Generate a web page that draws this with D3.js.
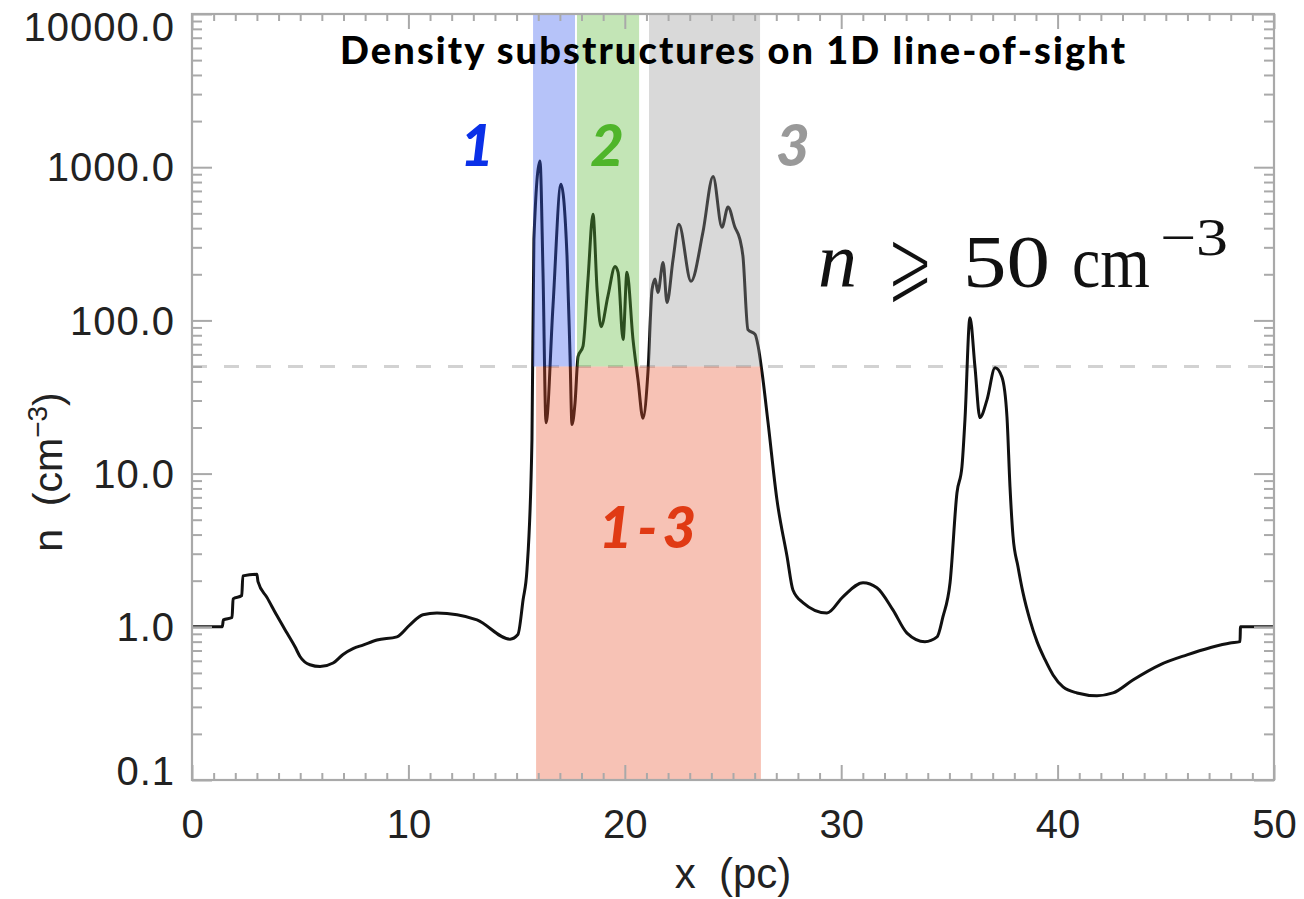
<!DOCTYPE html>
<html>
<head>
<meta charset="utf-8">
<script src="https://cdn.jsdelivr.net/npm/d3@7"></script>
<style>
  body { margin: 0; background: #fff; }
  svg { display: block; }
  .tick text { font-family: "Liberation Sans", Arial, sans-serif; fill: #222; }
</style>
</head>
<body>
<svg id="chart" width="1304" height="899"></svg>
<script>
// density along the line of sight
var xPc = [0, 1.4, 1.45, 1.85, 1.9, 2.3, 2.35, 3.0, 3.05, 3.47, 3.93, 4.39, 4.76, 4.99, 5.45, 5.92, 6.52, 6.98, 7.44, 7.9, 8.55, 9.47, 10.07, 10.67, 11.32, 12.25, 13.17, 14.7, 15.06, 15.3, 15.48, 15.71, 15.8, 16.08, 16.22, 16.36, 16.68, 17.05, 17.33, 17.47, 17.56, 17.7, 17.84, 18.07, 18.3, 18.53, 18.72, 18.9, 19.22, 19.55, 19.69, 19.92, 20.1, 20.38, 20.61, 20.84, 21.07, 21.26, 21.4, 21.53, 21.77, 21.95, 22.23, 22.5, 23.06, 23.61, 24.08, 24.49, 24.77, 25.09, 25.32, 25.46, 25.69, 26.02, 26.16, 26.34, 26.62, 27.03, 27.5, 27.77, 28.23, 29.34, 30.08, 31.01, 31.65, 32.39, 33.04, 33.87, 34.43, 34.7, 35.03, 35.35, 35.58, 35.72, 35.95, 36.18, 36.41, 36.74, 37.11, 37.43, 37.66, 37.8, 37.94, 38.17, 38.4, 38.72, 39.05, 39.42, 39.79, 40.25, 40.9, 41.82, 42.56, 43.48, 44.73, 45.98, 47.04, 47.97, 48.43, 48.45, 50];
var nDens = [1.0, 1.0, 1.11, 1.15, 1.52, 1.6, 2.15, 2.2, 1.97, 1.55, 1.18, 0.91, 0.74, 0.64, 0.565, 0.55, 0.58, 0.66, 0.72, 0.76, 0.82, 0.86, 1.03, 1.2, 1.23, 1.2, 1.11, 0.83, 0.89, 1.5, 2.36, 16.7, 338, 1096, 206, 21.5, 123, 774, 262, 58, 20.9, 29, 58, 68, 186, 493, 159, 91, 144, 225, 206, 75, 206, 75, 41, 23, 46, 159, 186, 152, 239, 131, 250, 424, 180, 376, 871, 405, 550, 405, 338, 262, 87, 81, 68, 46, 21.5, 6.76, 2.87, 1.74, 1.44, 1.23, 1.57, 1.94, 1.8, 1.29, 0.91, 0.8, 0.86, 1.16, 1.94, 7.5, 11.1, 22.6, 104, 50, 23.2, 30.4, 49, 42.5, 23.5, 8.2, 3.9, 2.47, 1.67, 1.11, 0.8, 0.61, 0.485, 0.405, 0.37, 0.355, 0.37, 0.45, 0.565, 0.656, 0.73, 0.785, 0.8, 1.0, 1.0];

var threshold = 50;
// substructure bands (pc)
var bandNames = ["1", "2", "3"];
var bandStart = [15.76, 17.79, 21.12];
var bandEnd = [17.70, 20.66, 26.25];
var allStart = 15.90, allEnd = 26.29;

var xTicks = [0, 10, 20, 30, 40, 50];
var yTicks = [0.1, 1, 10, 100, 1000, 10000];

var bandFill = ["#3a5cf0", "#5cb83a", "#999999"];
var bandText = ["#0a30e8", "#4fb52a", "#999999"];
var allFill = "#e8502a", allText = "#e03a14";
var axisCol = "#a9a9a9";

var W = 1304, H = 899;
var pad_left = 192, pad_top = 14, pad_right = 30, pad_bot = 119;
var pw = W - pad_left - pad_right, ph = H - pad_top - pad_bot;

var svg = d3.select("#chart");
var g = svg.append("g").attr("transform", "translate(" + pad_left + "," + pad_top + ")");

var x = d3.scaleLinear().domain([0, 50]).range([0, pw]);
var y = d3.scaleLog().domain([0.1, 10000]).range([ph, 0]);

var pts = xPc.map(function (d, i) { return [d, nDens[i]]; });

// minor tick values
var yMinor = [];
[0.1, 1, 10, 100, 1000].forEach(function (d) {
    for (var k = 2; k <= 9; k++) yMinor.push(d * k);
});
var xMinor = d3.range(1, 50).filter(function (d) { return d % 10 !== 0; });

// threshold line
g.append("line")
    .attr("x1", 0).attr("x2", pw)
    .attr("y1", y(threshold)).attr("y2", y(threshold))
    .attr("stroke", "#d2d2d2").attr("stroke-width", 3)
    .attr("stroke-dasharray", "15,17");

// the profile
g.append("path")
    .datum(pts)
    .attr("fill", "none")
    .attr("stroke", "#111")
    .attr("stroke-width", 3)
    .attr("stroke-linejoin", "round")
    .attr("d", d3.line().curve(d3.curveMonotoneX)
        .x(function (d) { return x(d[0]); }).y(function (d) { return y(d[1]); }));

// shaded bands over the line
g.selectAll("rect.band")
    .data(bandNames)
    .enter().append("rect")
    .attr("class", "band")
    .attr("x", function (d, i) { return x(bandStart[i]); })
    .attr("width", function (d, i) { return x(bandEnd[i]) - x(bandStart[i]); })
    .attr("y", y(10000))
    .attr("height", y(threshold) - y(10000))
    .attr("fill", function (d, i) { return bandFill[i]; })
    .attr("fill-opacity", 0.37);

g.append("rect")
    .attr("x", x(allStart))
    .attr("width", x(allEnd) - x(allStart))
    .attr("y", y(threshold))
    .attr("height", y(0.1) - y(threshold))
    .attr("fill", allFill)
    .attr("fill-opacity", 0.35);

// axes
function styleAxis(sel) {
    sel.select(".domain").remove();
    sel.selectAll(".tick line").attr("stroke", axisCol).attr("stroke-width", 2);
}
var fmtY = d3.format(".1f");

g.append("g").attr("transform", "translate(0," + ph + ")")
    .call(d3.axisBottom(x).tickValues(xTicks).tickFormat(d3.format("d")).tickSizeInner(-15).tickSizeOuter(0).tickPadding(30))
    .call(styleAxis)
    .selectAll("text").attr("font-size", 40);
g.append("g").attr("transform", "translate(0," + ph + ")")
    .call(d3.axisBottom(x).tickValues(xMinor).tickFormat("").tickSizeInner(-7).tickSizeOuter(0))
    .call(styleAxis);
g.append("g")
    .call(d3.axisTop(x).tickValues(xTicks).tickFormat("").tickSizeInner(-15).tickSizeOuter(0))
    .call(styleAxis);
g.append("g")
    .call(d3.axisTop(x).tickValues(xMinor).tickFormat("").tickSizeInner(-7).tickSizeOuter(0))
    .call(styleAxis);

var yAx = g.append("g")
    .call(d3.axisLeft(y).tickValues(yTicks).tickFormat(fmtY).tickSizeInner(-20).tickSizeOuter(0).tickPadding(17))
    .call(styleAxis);
yAx.selectAll("text").attr("font-size", 40).attr("letter-spacing", 1)
    .attr("dy", function (d) { return d === 10000 ? "0.67em" : (d === 0.1 ? "0.1em" : "0.34em"); });
g.append("g")
    .call(d3.axisLeft(y).tickValues(yMinor).tickFormat("").tickSizeInner(-10).tickSizeOuter(0))
    .call(styleAxis);
g.append("g").attr("transform", "translate(" + pw + ",0)")
    .call(d3.axisRight(y).tickValues(yTicks).tickFormat("").tickSizeInner(-20).tickSizeOuter(0))
    .call(styleAxis);
g.append("g").attr("transform", "translate(" + pw + ",0)")
    .call(d3.axisRight(y).tickValues(yMinor).tickFormat("").tickSizeInner(-10).tickSizeOuter(0))
    .call(styleAxis);

g.append("rect")
    .attr("width", pw).attr("height", ph)
    .attr("fill", "none").attr("stroke", axisCol).attr("stroke-width", 2.2);

// axis titles
svg.append("text")
    .attr("x", pad_left + pw / 2).attr("y", 888)
    .attr("text-anchor", "middle")
    .attr("font-family", "Liberation Sans, Arial, sans-serif")
    .attr("font-size", 42).attr("fill", "#222")
    .attr("xml:space", "preserve")
    .text("x  (pc)");

var yt = svg.append("text")
    .attr("transform", "translate(62,472) rotate(-90)")
    .attr("text-anchor", "middle")
    .attr("font-family", "Liberation Sans, Arial, sans-serif")
    .attr("font-size", 41).attr("fill", "#222")
    .attr("xml:space", "preserve");
yt.append("tspan").text("n  (cm");
yt.append("tspan").attr("dy", -15).attr("font-size", 28).text("\u22123");
yt.append("tspan").attr("dy", 15).text(")");

// title
svg.append("text")
    .attr("x", 340).attr("y", 64)
    .attr("font-family", "Lato, sans-serif")
    .attr("font-weight", 900)
    .attr("font-size", 38).attr("fill", "#000")
    .attr("textLength", 785).attr("lengthAdjust", "spacing")
    .text("Density substructures on 1D line-of-sight");

// band labels
var bandLabelX = [13.17, 19.18, 27.77];
g.selectAll("text.blab")
    .data(bandNames)
    .enter().append("text")
    .attr("class", "blab")
    .attr("x", function (d, i) { return x(bandLabelX[i]); })
    .attr("y", y(1014))
    .attr("text-anchor", "middle")
    .attr("font-family", "Lato, sans-serif")
    .attr("font-weight", 900).attr("font-style", "italic")
    .attr("font-size", 58)
    .attr("fill", function (d, i) { return bandText[i]; })
    .text(function (d) { return d; });

g.append("text")
    .attr("x", x(21.16)).attr("y", y(3.28))
    .attr("text-anchor", "middle")
    .attr("font-family", "Lato, sans-serif")
    .attr("font-weight", 900).attr("font-style", "italic")
    .attr("font-size", 58).attr("fill", allText)
    .attr("letter-spacing", 5)
    .text("1-3");

// threshold formula
var mathFont = "Liberation Serif, DejaVu Serif, serif";
svg.append("text")
    .attr("x", 818).attr("y", 287)
    .attr("font-family", mathFont).attr("font-style", "italic")
    .attr("font-size", 78).attr("fill", "#111")
    .text("n");
svg.append("text")
    .attr("x", 886).attr("y", 293)
    .attr("font-family", "DejaVu Sans, sans-serif")
    .attr("font-size", 92).attr("fill", "#111")
    .attr("stroke", "#fff").attr("stroke-width", 3)
    .attr("textLength", 48).attr("lengthAdjust", "spacingAndGlyphs")
    .text("\u2A7E");
svg.append("text")
    .attr("x", 963).attr("y", 287)
    .attr("font-family", mathFont)
    .attr("font-size", 74).attr("fill", "#111")
    .attr("textLength", 87).attr("lengthAdjust", "spacingAndGlyphs")
    .text("50");
svg.append("text")
    .attr("x", 1072).attr("y", 287)
    .attr("font-family", mathFont)
    .attr("font-size", 74).attr("fill", "#111")
    .attr("textLength", 78).attr("lengthAdjust", "spacingAndGlyphs")
    .text("cm");
svg.append("text")
    .attr("x", 1160).attr("y", 255)
    .attr("font-family", mathFont)
    .attr("font-size", 52).attr("fill", "#111")
    .attr("textLength", 68).attr("lengthAdjust", "spacingAndGlyphs")
    .text("\u22123");
</script>
</body>
</html>
